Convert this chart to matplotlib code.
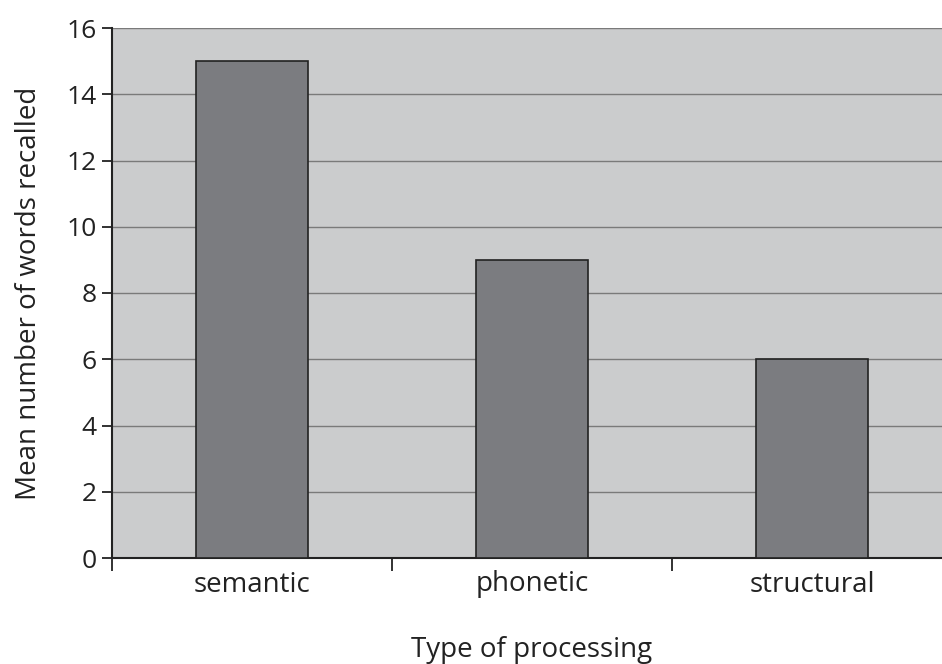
import matplotlib
matplotlib.use("Agg")
import matplotlib.pyplot as plt

# Data
categories = ["semantic", "phonetic", "structural"]
words_recalled = [15, 9, 6]

plt.rcParams['font.family'] = ['Open Sans', 'DejaVu Sans']

fig = plt.figure(figsize=(9.42, 6.64), dpi=100)
ax = fig.add_axes([112 / 942, 106 / 664, 840 / 942, 530 / 664])
ax.set_facecolor("#cbcccd")

x = list(range(len(categories)))
ax.bar(x, words_recalled, width=0.4, color="#7b7c80",
       edgecolor="#222222", linewidth=1.2, zorder=3)

ax.set_xlim(-0.5, len(categories) - 0.5)
ax.set_ylim(0, 16)
ax.set_yticks(range(0, 17, 2))
ax.yaxis.grid(True, color="#7a7a7a", linewidth=1.0, zorder=1)

# ticks at category boundaries, labels at centres
ax.set_xticks([i - 0.5 for i in range(len(categories) + 1)])
ax.set_xticklabels([])
ax.set_xticks(x, minor=True)
ax.set_xticklabels(categories, minor=True)
ax.tick_params(axis="x", which="major", direction="out", length=9, width=1.3, color="#222222")
ax.tick_params(axis="x", which="minor", length=0, labelsize=20, pad=9, colors="#222222")
ax.tick_params(axis="y", direction="out", length=7, width=1.3, pad=4, labelsize=19, colors="#222222")

for side in ["top", "right"]:
    ax.spines[side].set_visible(False)
for side in ["left", "bottom"]:
    ax.spines[side].set_color("#222222")
    ax.spines[side].set_linewidth(1.5)

ax.set_xlabel("Type of processing", fontsize=20, color="#222222", labelpad=27)
ax.set_ylabel("Mean number of words recalled", fontsize=20, color="#222222", labelpad=17)

fig.savefig("out.png", dpi=100)
